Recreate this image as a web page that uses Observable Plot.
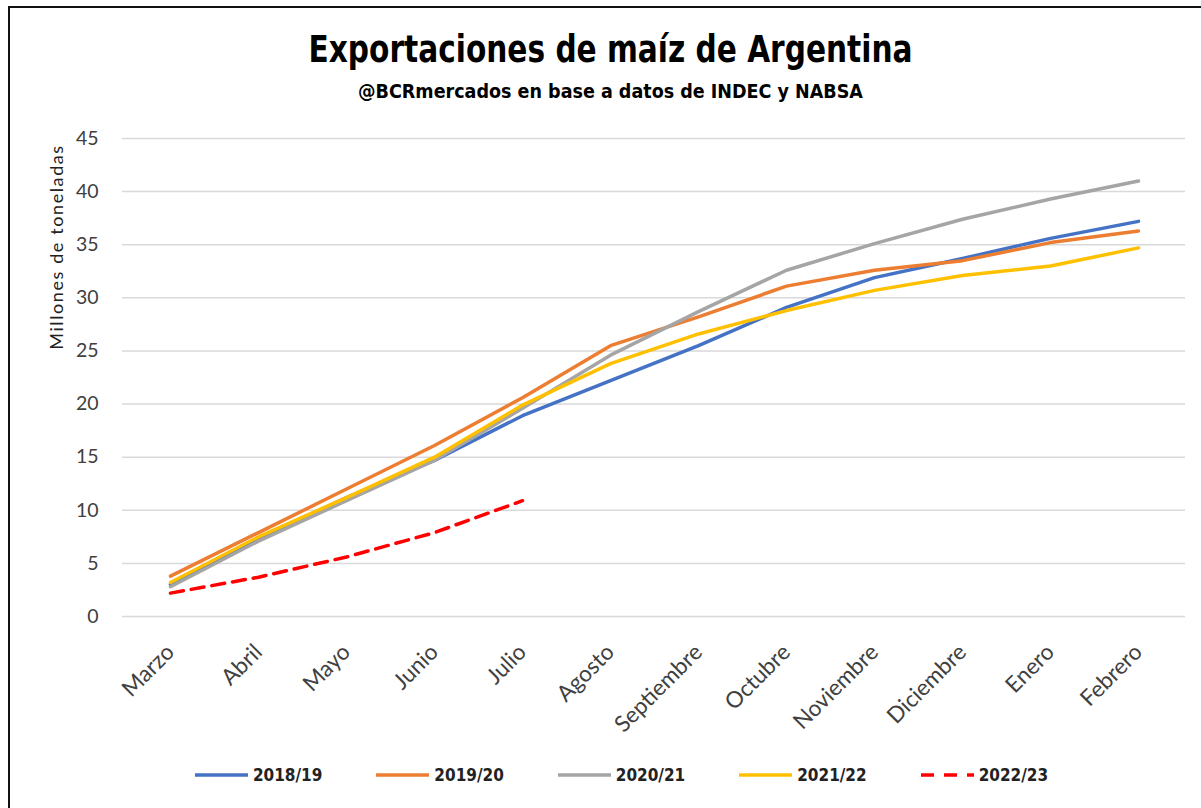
<!DOCTYPE html>
<html>
<head>
<meta charset="utf-8">
<script src="https://cdn.jsdelivr.net/npm/d3@7"></script>
<script src="https://cdn.jsdelivr.net/npm/@observablehq/plot@0.6"></script>
<style>
  html, body { margin: 0; padding: 0; background: #fff; }
  #wrap { position: relative; width: 1201px; height: 808px; overflow: hidden; background: #fff; }
  #frame { position: absolute; left: 8px; top: 6px; width: 1240px; height: 900px; border: 2px solid #111; box-sizing: border-box; }
  #title { position: absolute; left: 0; width: 1221px; top: 28px; text-align: center; transform: scaleX(0.89);
           font-family: "DejaVu Sans Condensed", "DejaVu Sans", sans-serif; font-weight: bold; font-size: 37px; color: #000; }
  #subtitle { position: absolute; left: 0; width: 1221px; top: 80px; text-align: center;
           font-family: "DejaVu Sans Condensed", "DejaVu Sans", sans-serif; font-weight: bold; font-size: 19.5px; color: #000; }
  #ylabel { position: absolute; left: 56px; top: 247px; transform: translate(-50%, -50%) rotate(-90deg);
           font-family: Lato, "Open Sans", sans-serif; font-size: 18px; letter-spacing: 1.6px; color: #222; white-space: nowrap; }
  #chart { position: absolute; left: 0; top: 0; }
  #legend { position: absolute; left: 0; width: 1241px; top: 765px; display: flex; justify-content: center; gap: 52px;
            font-family: "DejaVu Sans Condensed", "DejaVu Sans", sans-serif; font-weight: bold; font-size: 17px; color: #222; }
  .item { display: flex; align-items: center; gap: 3px; }
</style>
</head>
<body>
<div id="wrap">
  <div id="frame"></div>
  <div id="chart"></div>
  <div id="title">Exportaciones de maíz de Argentina</div>
  <div id="subtitle">@BCRmercados en base a datos de INDEC y NABSA</div>
  <div id="ylabel">Millones de toneladas</div>
  <div id="legend"></div>
</div>
<script>
const months = ["Marzo","Abril","Mayo","Junio","Julio","Agosto","Septiembre","Octubre","Noviembre","Diciembre","Enero","Febrero"];
const seriesNames = ["2018/19","2019/20","2020/21","2021/22","2022/23"];
const seriesColors = ["#4472C4","#ED7D31","#A5A5A5","#FFC000","#FF0000"];
const s1819 = [3.0, 7.3, 11.2, 14.7, 18.9, 22.2, 25.5, 29.1, 31.9, 33.7, 35.6, 37.2];
const s1920 = [3.8, 7.9, 12.0, 16.1, 20.6, 25.5, 28.2, 31.1, 32.6, 33.5, 35.2, 36.3];
const s2021 = [2.8, 7.1, 10.9, 14.7, 19.6, 24.6, 28.7, 32.6, 35.1, 37.4, 39.3, 41.0];
const s2122 = [3.2, 7.5, 11.2, 15.0, 19.9, 23.8, 26.6, 28.8, 30.7, 32.1, 33.0, 34.7];
const s2223 = [2.2, 3.7, 5.6, 7.9, 10.9];
const yTicks = [0, 5, 10, 15, 20, 25, 30, 35, 40, 45];

const allSeries = [s1819, s1920, s2021, s2122, s2223];
const rows = [];
allSeries.forEach((vals, i) => vals.forEach((v, j) => rows.push({serie: seriesNames[i], month: months[j], value: v})));
const solid = rows.filter(d => d.serie !== "2022/23");
const dashed = rows.filter(d => d.serie === "2022/23");

const chart = Plot.plot({
  width: 1201,
  height: 740,
  marginTop: 138,
  marginBottom: 124,
  marginLeft: 122,
  marginRight: 16,
  style: { fontFamily: "Lato, 'Open Sans', sans-serif", fontSize: "18px", color: "#404040", background: "transparent" },
  x: { type: "point", domain: months, padding: 0.5, label: null },
  y: { domain: [0, 45], label: null },
  color: { domain: seriesNames, range: seriesColors },
  marks: [
    Plot.gridY(yTicks, { stroke: "#d9d9d9", strokeOpacity: 1, strokeWidth: 1.5 }),
    Plot.axisY(yTicks, { tickSize: 0, tickPadding: 24, fontSize: 19.5, fill: "#404040" }),
    Plot.axisX(months, { tickSize: 0, tickRotate: -45, tickPadding: 32, fontSize: 22.5, fill: "#404040" }),
    Plot.line(solid, { x: "month", y: "value", z: "serie", stroke: "serie", strokeWidth: 3.5, strokeLinejoin: "round", strokeLinecap: "round" }),
    Plot.line(dashed, { x: "month", y: "value", stroke: "serie", strokeWidth: 3.5, strokeDasharray: "13,8" })
  ]
});
document.getElementById("chart").appendChild(chart);

const legend = document.getElementById("legend");
seriesNames.forEach((name, i) => {
  const item = document.createElement("div");
  item.className = "item";
  const dash = name === "2022/23" ? 'stroke-dasharray="13,10"' : "";
  item.innerHTML = `<svg width="57" height="10"><line x1="2" x2="55" y1="5" y2="5" stroke="${seriesColors[i]}" stroke-width="3.5" ${dash}/></svg><span>${name}</span>`;
  legend.appendChild(item);
});
</script>
</body>
</html>
